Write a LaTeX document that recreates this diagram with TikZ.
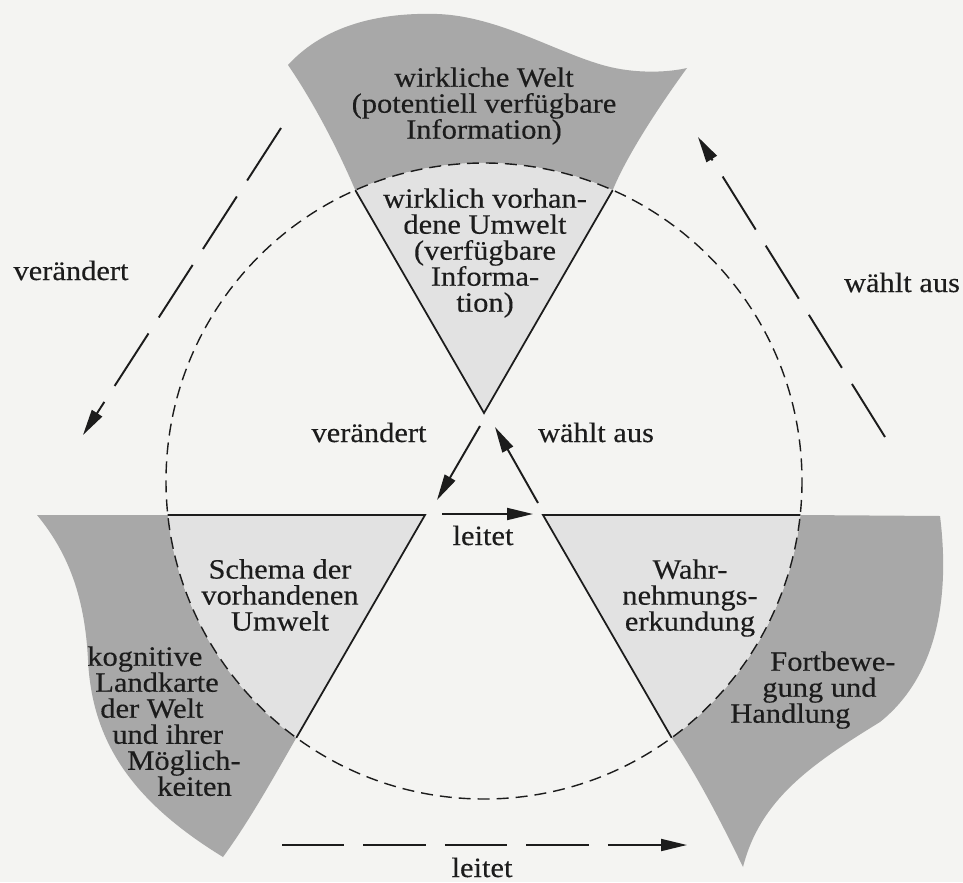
\documentclass[tikz,border=0pt]{standalone}
\usepackage{fontspec}
\setmainfont{Liberation Serif}[FakeStretch=1.09, FakeBold=0.3]
\usetikzlibrary{arrows.meta}
\definecolor{paper}{RGB}{244,244,242}
\definecolor{mapgray}{RGB}{168,168,168}
\definecolor{sectorgray}{RGB}{226,226,226}
\definecolor{ink}{RGB}{28,28,28}
\begin{document}
\begin{tikzpicture}[x=0.02cm, y=-0.02cm,
  every node/.style={inner sep=0pt, text=ink, font=\fontsize{15.9pt}{14.8pt}\selectfont},
  mapblob/.style={fill=mapgray},
  sector/.style={fill=sectorgray},
  rimline/.style={draw=ink, line width=0.8pt, dash pattern=on 0.24cm off 0.14cm},
  sideline/.style={draw=ink, line width=1pt},
  solidarrow/.style={draw=ink, line width=1.1pt, -{Triangle[length=0.52cm,width=0.24cm]}},
  dasharrow/.style={solidarrow, dash pattern=on 1.25cm off 0.38cm},
]
% page
\fill[paper] (0,0) rectangle (963,882);
\useasboundingbox (0,0) rectangle (963,882);

% circle centre and the three sector apices / rim corners
\coordinate (C)  at (484,481);
\coordinate (At) at (484,413);
\coordinate (Al) at (425,515);
\coordinate (Ar) at (543,515);
\coordinate (Tl) at (355.3,190.2);
\coordinate (Tr) at (612.7,190.2);
\coordinate (Lt) at (167.7,515);
\coordinate (Lb) at (296.3,737.8);
\coordinate (Rt) at (800.3,515);
\coordinate (Rb) at (671.7,737.8);

% outer grey regions
\path[mapblob] (Tl) .. controls (336,145) and (312,100) .. (288,65)
  .. controls (320,30) and (370,12) .. (437,14)
  .. controls (500,16) and (560,55) .. (610,67)
  .. controls (640,74) and (670,72) .. (687,68)
  .. controls (660,105) and (627,155) .. (Tr)
  arc[start angle=-66.1, end angle=-113.9, radius=318] -- cycle;
\path[mapblob] (Lb) .. controls (275,775) and (250,820) .. (223,857)
  .. controls (130,800) and (92,740) .. (88,660)
  .. controls (85,600) and (70,555) .. (37,515)
  -- (Lt) arc[start angle=173.9, end angle=126.1, radius=318] -- cycle;
\path[mapblob] (Rt) -- (940,516)
  .. controls (948,580) and (945,670) .. (880,722)
  .. controls (810,765) and (760,800) .. (743,867)
  .. controls (725,830) and (700,780) .. (Rb)
  arc[start angle=53.9, end angle=6.1, radius=318] -- cycle;

% inner light sectors
\path[sector] (At) -- (Tl) arc[start angle=-113.9, end angle=-66.1, radius=318] -- cycle;
\path[sector] (Al) -- (Lt) arc[start angle=173.9, end angle=126.1, radius=318] -- cycle;
\path[sector] (Ar) -- (Rt) arc[start angle=6.1, end angle=53.9, radius=318] -- cycle;

% dashed circle and sector sides
\path[rimline] (C) circle[radius=318];
\path[sideline] (Tl) -- (At) -- (Tr);
\path[sideline] (Lt) -- (Al) -- (Lb);
\path[sideline] (Rt) -- (Ar) -- (Rb);

% arrows in the middle
\coordinate (v1) at (480,426);
\coordinate (v2) at (437,500);
\coordinate (w1) at (538,503);
\coordinate (w2) at (495,427);
\coordinate (l1) at (442,514);
\coordinate (l2) at (533,514);
\path[solidarrow] (v1) -- (v2);
\path[solidarrow] (w1) -- (w2);
\path[solidarrow] (l1) -- (l2);

% outer dashed arrows
\coordinate (ov1) at (281,128);
\coordinate (ov2) at (83,435);
\coordinate (ow1) at (885,437);
\coordinate (ow2) at (698,137);
\coordinate (ol1) at (282,845);
\coordinate (ol2) at (687,845);
\path[dasharrow] (ov1) -- (ov2);
\path[dasharrow] (ow1) -- (ow2);
\path[dasharrow] (ol1) -- (ol2);

% texts in the regions
\node[align=center] (world) at (484,106) {wirkliche Welt\\(potentiell verfügbare\\Information)};
\node[align=center] (env) at (485,253) {wirklich vorhan-\\dene Umwelt\\(verfügbare\\Informa-\\tion)};
\node[align=center] (schema) at (280,595) {Schema der\\vorhandenen\\Umwelt};
\node[align=center] (percept) at (690,598) {Wahr-\\nehmungs-\\erkundung};
\node[align=left, anchor=north west] (cogmap) at (87,646)
  {kognitive\\\hspace*{0.16cm}Landkarte\\\hspace*{0.26cm}der Welt\\\hspace*{0.5cm}und ihrer\\\hspace*{0.8cm}Möglich-\\\hspace*{1.4cm}keiten};
\node[align=left, anchor=north west] (motion) at (730,651)
  {\hspace*{0.8cm}Fortbewe-\\\hspace*{0.64cm}gung und\\Handlung};

% arrow labels
\node[anchor=base] (lbv1) at (369,442) {verändert};
\node[anchor=base] (lbw1) at (596,442) {wählt aus};
\node[anchor=base] (lbl1) at (483,545) {leitet};
\node[anchor=base] (lbv2) at (71,280) {verändert};
\node[anchor=base] (lbw2) at (902,292) {wählt aus};
\node[anchor=base] (lbl2) at (482,877) {leitet};
\end{tikzpicture}
\end{document}
